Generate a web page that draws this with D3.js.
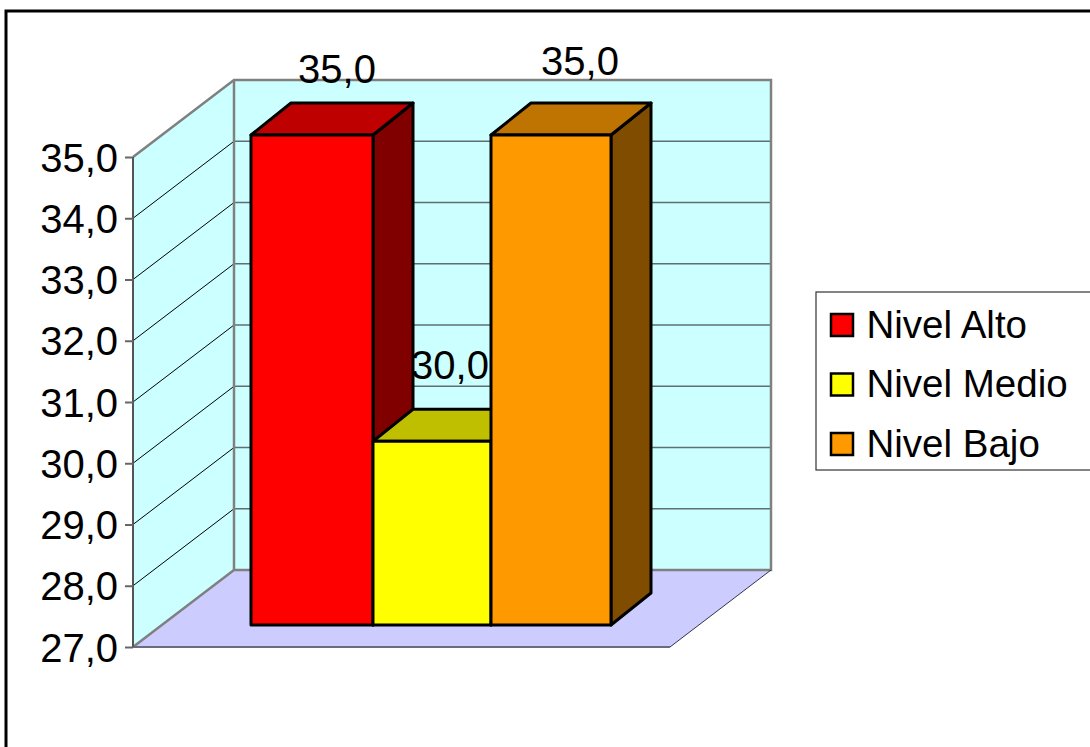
<!DOCTYPE html>
<html>
<head>
<meta charset="utf-8">
<script src="https://cdnjs.cloudflare.com/ajax/libs/d3/7.8.5/d3.min.js"></script>
<style>
  html, body { margin: 0; padding: 0; background: #fff; overflow: hidden; }
  text { font-family: "Liberation Sans", Arial, sans-serif; fill: #000; }
</style>
</head>
<body>
<svg id="chart" width="1090" height="747"></svg>
<script>
const categories = ["Nivel Alto", "Nivel Medio", "Nivel Bajo"];
const values = [35, 30, 35];
const colors = ["#FF0000", "#FFFF00", "#FF9900"];
const topColors = ["#BF0000", "#BFBF00", "#BF7300"];
const sideColors = ["#800000", "#808000", "#804D00"];
const tickValues = [27, 28, 29, 30, 31, 32, 33, 34, 35];

const svg = d3.select("#chart");
const es = d3.formatLocale({decimal: ",", thousands: ".", grouping: [3], currency: ["", " €"]});
const fmt = es.format(".1f");

// 3d box geometry
const wallLeft = 133, wallRight = 670;
const wallDepth = {x: 101, y: -77};
const barDepth = {x: 40, y: -32};
const barEdges = [251, 373, 491, 611];
const labelShift = [{x: 25, y: -52}, {x: 18, y: -62}, {x: 29, y: -60}];

const y = d3.scaleLinear().domain([27, 35]).range([647, 157]);
const yBar = d3.scaleLinear().domain([27, 35]).range([625, 135]);
const xBar = d3.scaleOrdinal().domain(categories).range(barEdges.slice(0, 3));

const poly = pts => pts.map(p => p.join(",")).join(" ");

// outer frame, runs off the right and bottom of the picture
svg.append("rect")
  .attr("x", 6).attr("y", 11).attr("width", 1300).attr("height", 1000)
  .attr("fill", "#fff").attr("stroke", "#000").attr("stroke-width", 3);

// side wall
svg.append("polygon")
  .attr("points", poly([
    [wallLeft, y(27)], [wallLeft, y(35)],
    [wallLeft + wallDepth.x, y(35) + wallDepth.y], [wallLeft + wallDepth.x, y(27) + wallDepth.y]
  ]))
  .attr("fill", "#CCFFFF");

// back wall
svg.append("rect")
  .attr("x", wallLeft + wallDepth.x).attr("y", y(35) + wallDepth.y)
  .attr("width", wallRight - wallLeft)
  .attr("height", y(27) - y(35))
  .attr("fill", "#CCFFFF");

// floor
svg.append("polygon")
  .attr("points", poly([
    [wallLeft, y(27)], [wallRight, y(27)],
    [wallRight + wallDepth.x, y(27) + wallDepth.y], [wallLeft + wallDepth.x, y(27) + wallDepth.y]
  ]))
  .attr("fill", "#CCCCFF");

// gridlines
const gridVals = tickValues.filter(d => d > 27 && d < 35);
svg.append("g").selectAll("line").data(gridVals).join("line")
  .attr("x1", wallLeft).attr("y1", d => y(d))
  .attr("x2", wallLeft + wallDepth.x).attr("y2", d => y(d) + wallDepth.y)
  .attr("stroke", "#000").attr("stroke-width", 1);
svg.append("g").selectAll("line").data(gridVals).join("line")
  .attr("x1", wallLeft + wallDepth.x).attr("y1", d => y(d) + wallDepth.y)
  .attr("x2", wallRight + wallDepth.x).attr("y2", d => y(d) + wallDepth.y)
  .attr("stroke", "#5F6F70").attr("stroke-width", 1.5);

// wall outlines
svg.append("polyline")
  .attr("points", poly([
    [wallLeft, y(35)], [wallLeft + wallDepth.x, y(35) + wallDepth.y],
    [wallRight + wallDepth.x, y(35) + wallDepth.y], [wallRight + wallDepth.x, y(27) + wallDepth.y],
    [wallLeft + wallDepth.x, y(27) + wallDepth.y], [wallLeft, y(27)]
  ]))
  .attr("fill", "none").attr("stroke", "#808080").attr("stroke-width", 2.5);
svg.append("line")
  .attr("x1", wallLeft + wallDepth.x).attr("x2", wallLeft + wallDepth.x)
  .attr("y1", y(35) + wallDepth.y).attr("y2", y(27) + wallDepth.y)
  .attr("stroke", "#808080").attr("stroke-width", 2.5);
svg.append("line")
  .attr("x1", wallRight).attr("y1", y(27))
  .attr("x2", wallRight + wallDepth.x).attr("y2", y(27) + wallDepth.y)
  .attr("stroke", "#33334D").attr("stroke-width", 1);
svg.append("line")
  .attr("x1", wallLeft).attr("x2", wallRight)
  .attr("y1", y(27)).attr("y2", y(27))
  .attr("stroke", "#6C6C80").attr("stroke-width", 2);

// value axis
const axis = d3.axisLeft(y).tickValues(tickValues).tickFormat(fmt).tickSize(8).tickPadding(7);
const axisG = svg.append("g").attr("transform", `translate(${wallLeft},0)`).call(axis);
axisG.select(".domain").attr("stroke", "#555").attr("stroke-width", 2).attr("d", `M0,${y(35)}V${y(27)}`);
axisG.selectAll(".tick line").attr("stroke", "#666").attr("stroke-width", 2);
axisG.selectAll(".tick text")
  .attr("font-family", '"Liberation Sans", Arial, sans-serif')
  .attr("font-size", 40).attr("fill", "#000")
  .attr("dy", 14);

// bars, drawn left to right so the later ones sit over the earlier sides
categories.forEach((c, i) => {
  const x0 = xBar(c), x1 = barEdges[i + 1];
  const top = yBar(values[i]), base = yBar(27);
  const g = svg.append("g").attr("stroke", "#000").attr("stroke-width", 3).attr("stroke-linejoin", "round");
  g.append("polygon")
    .attr("points", poly([[x1, top], [x1 + barDepth.x, top + barDepth.y], [x1 + barDepth.x, base + barDepth.y], [x1, base]]))
    .attr("fill", sideColors[i]);
  g.append("polygon")
    .attr("points", poly([[x0, top], [x1, top], [x1 + barDepth.x, top + barDepth.y], [x0 + barDepth.x, top + barDepth.y]]))
    .attr("fill", topColors[i]);
  g.append("rect")
    .attr("x", x0).attr("y", top).attr("width", x1 - x0).attr("height", base - top)
    .attr("fill", colors[i]);
});

// data labels
svg.append("g").selectAll("text").data(categories).join("text")
  .attr("x", (c, i) => (xBar(c) + barEdges[i + 1]) / 2 + labelShift[i].x)
  .attr("y", (c, i) => yBar(values[i]) + labelShift[i].y)
  .attr("text-anchor", "middle").attr("font-size", 40)
  .text((c, i) => fmt(values[i]));

// legend
svg.append("rect")
  .attr("x", 816).attr("y", 292).attr("width", 400).attr("height", 178)
  .attr("fill", "#fff").attr("stroke", "#333").attr("stroke-width", 1.2);
const rowY = d3.scalePoint().domain(categories).range([325, 444]);
const legend = svg.append("g").selectAll("g").data(categories).join("g")
  .attr("transform", c => `translate(830,${rowY(c)})`);
legend.append("rect")
  .attr("x", 1).attr("y", -11).attr("width", 22).attr("height", 22)
  .attr("fill", (c, i) => colors[i]).attr("stroke", "#000").attr("stroke-width", 2.5);
legend.append("text")
  .attr("x", 36.5).attr("y", 12.5).attr("font-size", 38.5)
  .text(c => c);
</script>
</body>
</html>
